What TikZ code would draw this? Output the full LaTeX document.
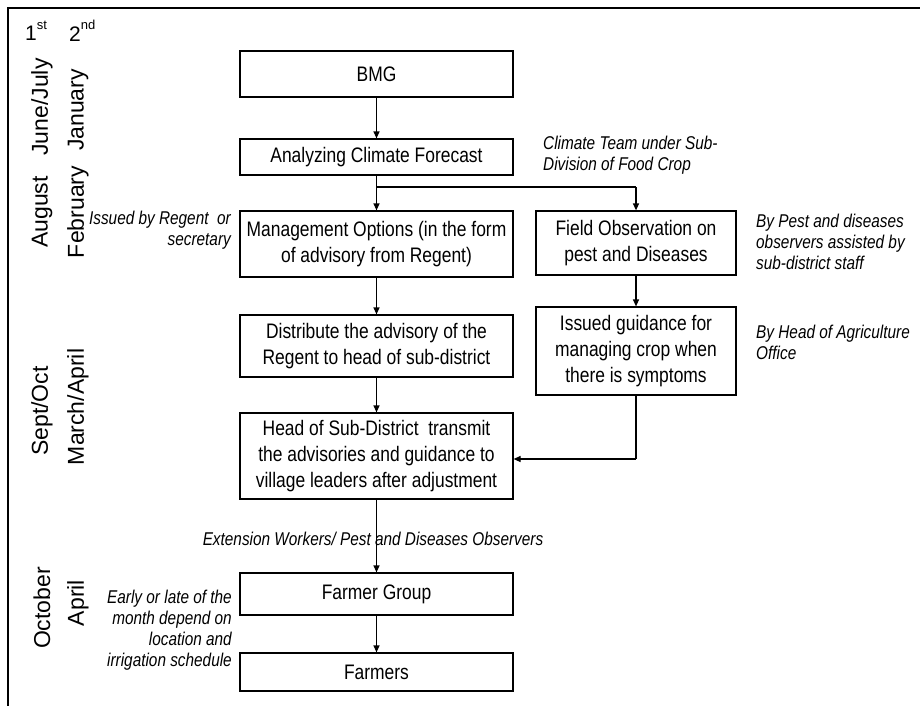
\documentclass[tikz,border=0pt]{standalone}
\usepackage{fontspec}
\setmainfont[FakeStretch=0.83]{Liberation Sans}
\newfontfamily\sidefont{Liberation Sans}
\usetikzlibrary{arrows.meta}
\newcommand{\supx}[1]{\raisebox{0.55em}{\fontsize{13}{13}\selectfont #1}}
\tikzset{
  box/.style={draw, line width=1.2pt, rectangle, inner sep=0pt, align=center,
    font=\fontsize{21}{26}\selectfont},
  note/.style={inner sep=0pt, font=\fontsize{18.5}{21}\selectfont\itshape},
  side/.style={inner sep=0pt, rotate=90, font=\sidefont\fontsize{23}{26}\selectfont},
  arr/.style={line width=1.2pt, -{Triangle[length=7pt,width=6pt]}},
  ln/.style={line width=1.2pt}
}
\begin{document}
\begin{tikzpicture}[x=1pt,y=-1pt]
\useasboundingbox (0,0) rectangle (920,706);
\draw[line width=2pt] (8,706) -- (8,8) -- (920,8);
% header
\node[inner sep=0pt, anchor=west, font=\sidefont\fontsize{21}{24}\selectfont] (h1) at (25,31) {1\supx{st}};
\node[inner sep=0pt, anchor=west, font=\sidefont\fontsize{21}{24}\selectfont] (h2) at (69,31) {2\supx{nd}};
% side labels
\node[side] (s1a) at (42,107) {June/July};
\node[side] (s1b) at (78,110) {January};
\node[side] (s2a) at (42,212) {August};
\node[side] (s2b) at (78,212) {February};
\node[side] (s3a) at (42,411) {Sept/Oct};
\node[side] (s3b) at (78,407) {March/April};
\node[side] (s4a) at (42,608) {October};
\node[side] (s4b) at (78,603) {April};
% boxes
\node[box, minimum width=273pt, minimum height=46pt] (bmg) at (376.5,74) {BMG};
\node[box, minimum width=273pt, minimum height=36pt] (acf) at (376.5,157) {Analyzing Climate Forecast};
\node[box, minimum width=273pt, minimum height=66pt] (mgmt) at (376.5,244) {Management Options (in the form\\of advisory from Regent)};
\node[box, minimum width=200pt, minimum height=64pt] (field) at (636,243) {Field Observation on\\pest and Diseases};
\node[box, minimum width=273pt, minimum height=62pt] (dist) at (376.5,346) {Distribute the advisory of the\\Regent to head of sub-district};
\node[box, minimum width=200pt, minimum height=88pt] (guid) at (636,351) {Issued guidance for\\managing crop when\\there is symptoms};
\node[box, minimum width=273pt, minimum height=86pt] (head) at (376.5,456) {Head of Sub-District\ \ transmit\\the advisories and guidance to\\village leaders after adjustment};
\node[box, minimum width=273pt, minimum height=42pt] (fg) at (376.5,594) {Farmer Group};
\node[box, minimum width=273pt, minimum height=38pt] (farm) at (376.5,672) {Farmers};
% notes
\node[note, anchor=west, align=left] (n1) at (543,155) {Climate Team under Sub-\\Division of Food Crop};
\node[note, anchor=east, align=right] (n2) at (231,230) {Issued by Regent\ \ or\\secretary};
\node[note, anchor=west, align=left] (n3) at (756,242) {By Pest and diseases\\observers assisted by\\sub-district staff};
\node[note, anchor=west, align=left] (n4) at (756,342) {By Head of Agriculture\\Office};
\node[note, anchor=east, align=right] (n6) at (232,630) {Early or late of the\\month depend on\\location and\\irrigation schedule};
% connectors
\coordinate (split) at (376.5,187);
\coordinate (rtop) at (636,187);
\coordinate (gcorner) at (636,459);
\draw[arr] (bmg) -- (acf);
\draw[arr] (acf) -- (mgmt);
\draw[ln] (split) -- (rtop);
\draw[arr] (rtop) -- (field.north);
\draw[arr] (field) -- (guid);
\draw[arr] (mgmt) -- (dist);
\draw[arr] (dist) -- (head);
\draw[ln] (guid.south) -- (gcorner);
\draw[arr] (gcorner) -- (gcorner -| head.east);
\draw[arr] (head) -- (fg);
\node[note] (n5) at (373,539) {Extension Workers/ Pest and Diseases Observers};
\draw[arr] (fg) -- (farm);
\end{tikzpicture}
\end{document}
